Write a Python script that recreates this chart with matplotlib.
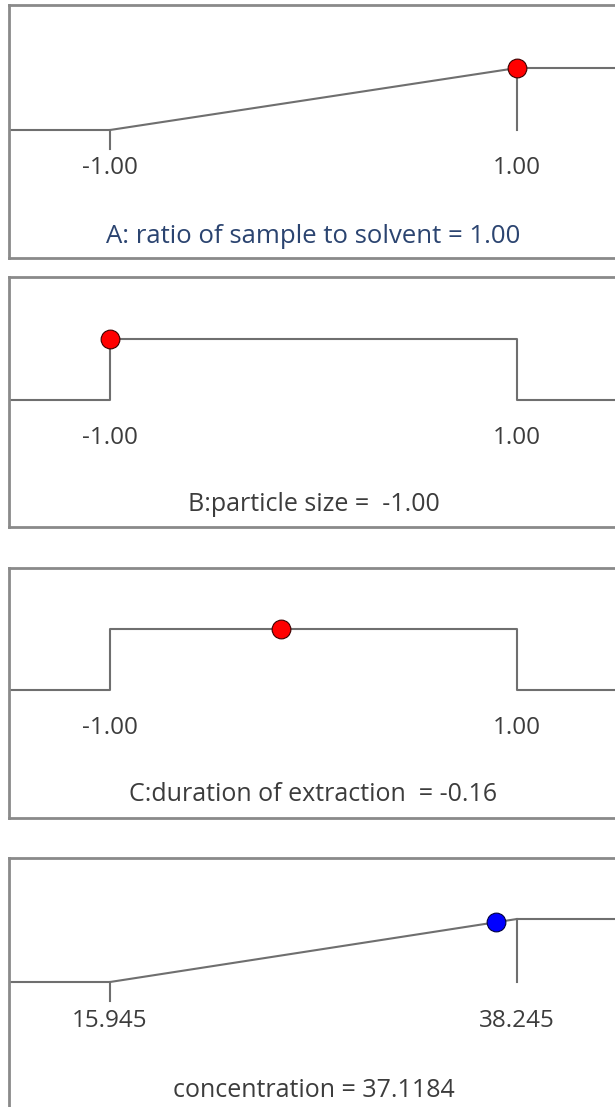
import numpy as np
import matplotlib
matplotlib.use('Agg')
import matplotlib.pyplot as plt

plt.rcParams['font.family'] = ['Open Sans', 'DejaVu Sans']

#-------------DATA---------------
titles = ['A: ratio of sample to solvent = 1.00', 'B:particle size =  -1.00',
          'C:duration of extraction  = -0.16', 'concentration = 37.1184']
lows = [-1.0, -1.0, -1.0, 15.945]
highs = [1.0, 1.0, 1.0, 38.245]
values = [1.00, -1.00, -0.16, 37.1184]
goals = ['max', 'range', 'range', 'max']
low_labels = ['-1.00', '-1.00', '-1.00', '15.945']
high_labels = ['1.00', '1.00', '1.00', '38.245']
marker_colors = ['red', 'red', 'red', 'blue']
title_colors = ['#2b4470', '#3c3c3c', '#3c3c3c', '#3c3c3c']
title_sizes = [18.5, 18, 18, 18]

#-------------LAYOUT (pixels)---------------
W, H = 615, 1107
# top, bottom, baseline, high level of each panel
panels = [(5, 258, 130, 68), (277, 527, 400, 339), (568, 818, 690, 629), (858, 1125, 982, 919)]
x_left, x_low, x_high, x_right = 9, 110, 517, 628

fig = plt.figure(figsize=(W / 100, H / 100), dpi=100)
line_col = '#6f6f6f'

for i, (top, bot, base, hi) in enumerate(panels):
    ax = fig.add_axes([x_left / W, 1 - bot / H, (x_right - x_left) / W, (bot - top) / H])
    unit = base - hi
    span = x_high - x_low
    xl = -(x_low - x_left) / span
    xr = 1 + (x_right - x_high) / span
    ax.set_xlim(xl, xr)
    ax.set_ylim(-(bot - base) / unit, (base - top) / unit)

    u = (values[i] - lows[i]) / (highs[i] - lows[i])
    if goals[i] == 'max':
        ax.plot([xl, 0, 1, xr], [0, 0, 1, 1], color=line_col, lw=1.5, solid_joinstyle='miter')
        ax.plot([1, 1], [1, 0], color=line_col, lw=1.5)
        ax.plot([0, 0], [0, -0.3], color=line_col, lw=1.5)
        d = min(max(u, 0), 1)
    else:
        ax.plot([xl, 0, 0, 1, 1, xr], [0, 0, 1, 1, 0, 0], color=line_col, lw=1.5)
        d = 1 if 0 <= u <= 1 else 0
    ax.plot(u, d, 'o', ms=13.5, color=marker_colors[i], mec='#3a0000' if marker_colors[i] == 'red' else '#000040',
            mew=0.8, zorder=5, clip_on=False)

    ax.text(0, -0.62, low_labels[i], ha='center', va='center', fontsize=17.5, color='#3c3c3c')
    ax.text(1, -0.62, high_labels[i], ha='center', va='center', fontsize=17.5, color='#3c3c3c')
    ax.text(0.5, -1.72, titles[i], ha='center', va='center', fontsize=title_sizes[i], color=title_colors[i])

    ax.set_xticks([])
    ax.set_yticks([])
    for s in ax.spines.values():
        s.set_color('#8a8a8a')
        s.set_linewidth(2)

fig.savefig('out.png', dpi=100)
